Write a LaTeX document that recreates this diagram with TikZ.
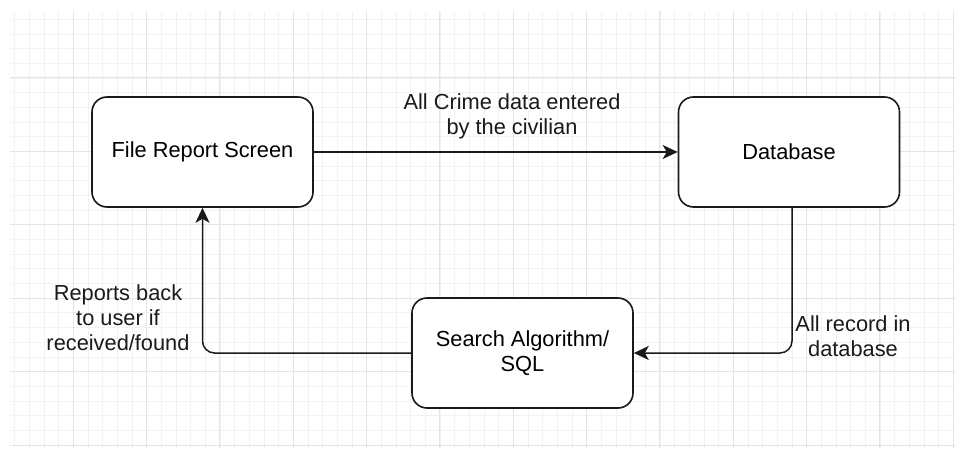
\documentclass[tikz,border=0pt]{standalone}
\usepackage{fontspec}
\setmainfont{Liberation Sans}
\usetikzlibrary{arrows.meta}

\definecolor{gridmajor}{HTML}{E4E4E4}
\definecolor{gridminor}{HTML}{F2F2F2}
\definecolor{ink}{HTML}{1A1A1A}

\tikzset{
  procbox/.style={draw=ink, line width=1.6pt, rounded corners=15pt, fill=white,
    minimum width=221pt, minimum height=110pt, align=center, inner sep=0pt,
    font=\fontsize{21.8}{25}\selectfont},
  flowlabel/.style={align=center, inner sep=0pt, text=ink,
    font=\fontsize{21.8}{25}\selectfont},
  flow/.style={draw=ink, line width=1.5pt,
    -{Stealth[length=15pt,width=14pt,inset=4pt]}},
}

\begin{document}
\begin{tikzpicture}[x=1pt, y=-1pt]
  \useasboundingbox[fill=white] (0,0) rectangle (963,462);

  % background grid
  \begin{scope}
    \clip (10,12) rectangle (955,447);
    \foreach \i in {0,...,65} {
      \draw[gridminor, line width=0.8pt] ({\i*14.667},0) -- ({\i*14.667},462);
    }
    \foreach \j in {0,...,31} {
      \draw[gridminor, line width=0.8pt] (0,{4.6+\j*14.68}) -- (963,{4.6+\j*14.68});
    }
    \foreach \i in {0,...,13} {
      \draw[gridmajor, line width=1pt] ({\i*73.33},0) -- ({\i*73.33},462);
    }
    \foreach \j in {0,...,6} {
      \draw[gridmajor, line width=1pt] (0,{4.6+\j*73.4}) -- (963,{4.6+\j*73.4});
    }
  \end{scope}

  % process boxes
  \node[procbox] (frs) at (202.5,152) {File Report Screen};
  \node[procbox] (db)  at (789,152)   {Database};
  \node[procbox] (sql) at (522.5,353) {Search Algorithm/\\SQL};

  % data flows
  \draw[flow] (frs.east) -- (db.west);
  \draw[flow, rounded corners=12pt] ([xshift=3pt]db.south) |- (sql.east);
  \draw[flow, rounded corners=12pt] (sql.west) -| (frs.south);

  % flow labels
  \node[flowlabel] (lblentered) at (512,116) {All Crime data entered\\by the civilian};
  \node[flowlabel] (lblrecords) at (853,336) {All record in\\database};
  \node[flowlabel] (lblreport)  at (118,318) {Reports back\\to user if\\received/found};
\end{tikzpicture}
\end{document}
